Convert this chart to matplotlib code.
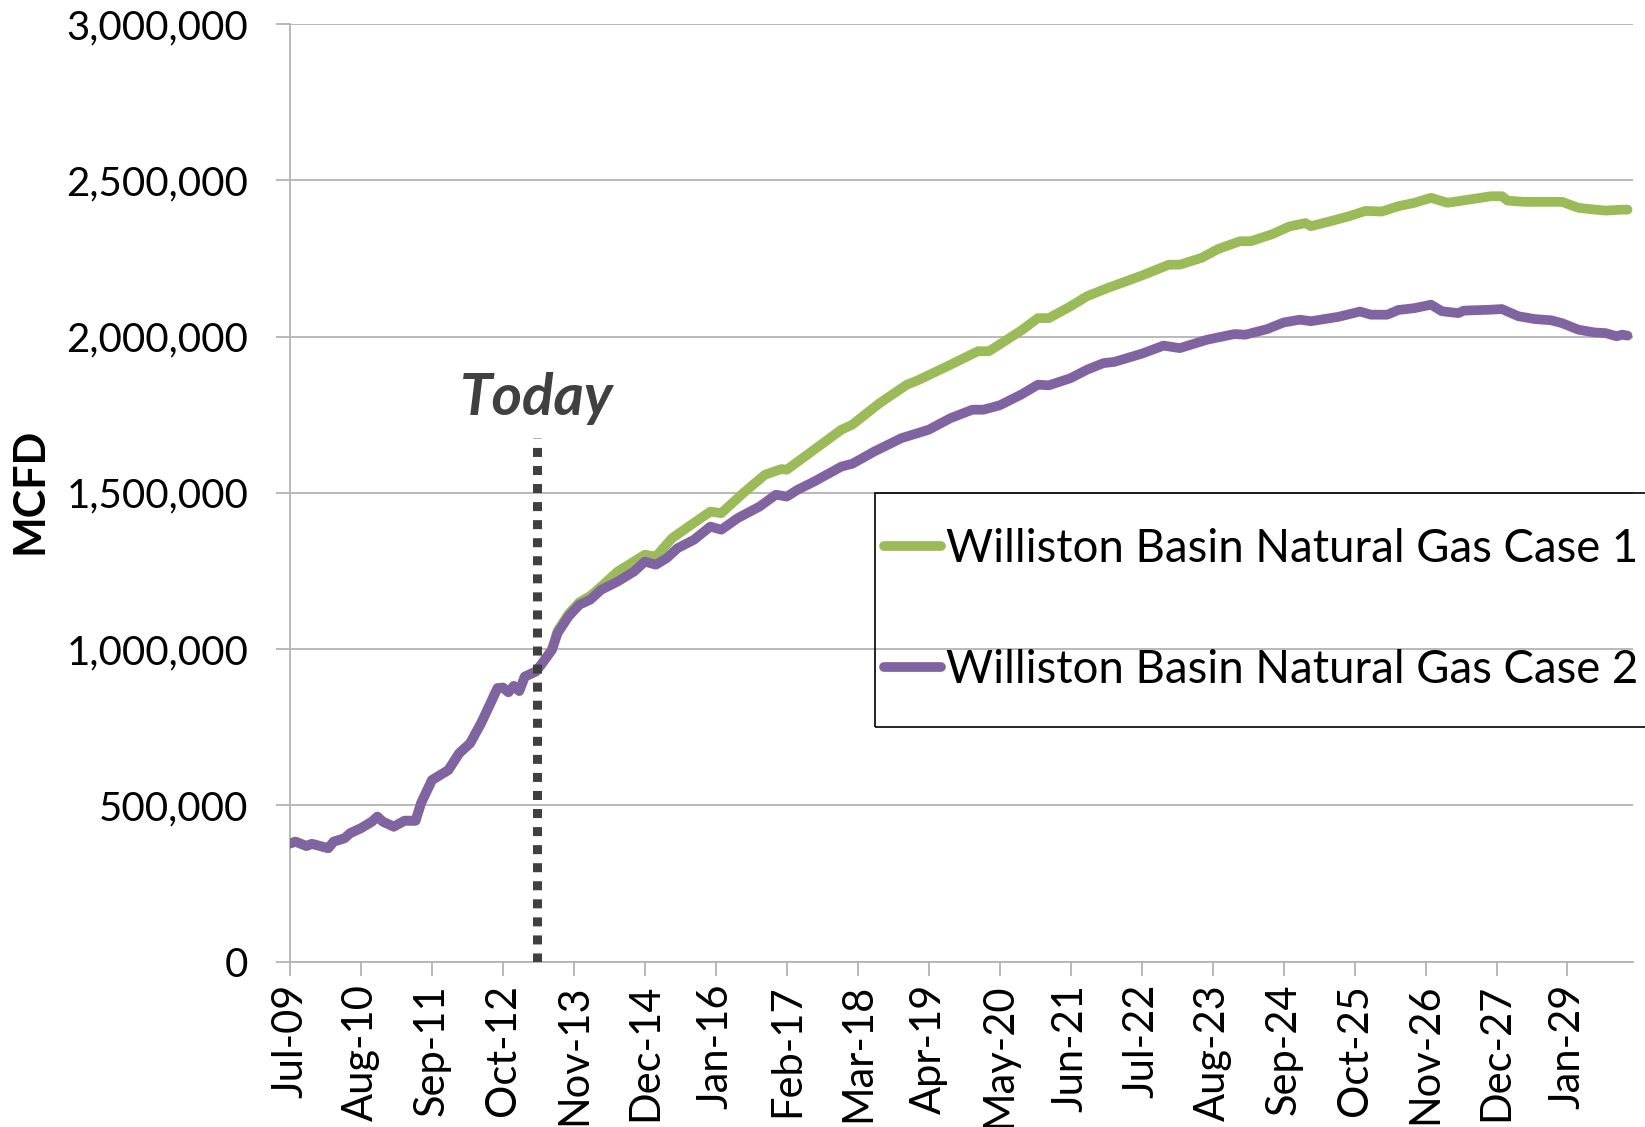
import numpy as np
import matplotlib
matplotlib.use('Agg')
import matplotlib.pyplot as plt
from matplotlib.patches import Rectangle

plt.rcParams['font.family'] = ['Lato', 'DejaVu Sans']

# months counted from Jul-09 (0) ; values in MCFD
hist_months = [0, 1, 3, 4, 7, 8, 10, 11, 13, 15, 16, 17, 19, 21, 23, 24, 26, 29, 31, 33,
               35, 36, 38, 39, 40, 41, 42, 43, 45]
hist_values = [378000, 384000, 370000, 377000, 363000, 384000, 395000, 411000, 427000, 448000,
               464000, 448000, 432000, 451000, 451000, 507000, 581000, 613000, 667000, 699000,
               763000, 800000, 875000, 877000, 862000, 882000, 866000, 912000, 928000]

case1_months = [46, 48, 49, 51, 53, 55, 57, 60, 65, 67, 70, 73, 77, 79, 83, 87, 90, 91, 96,
                101, 103, 108, 113, 115, 121, 126, 128, 130, 134, 137, 139, 143, 146, 150,
                151, 156, 161, 163, 167, 170, 174, 176, 180, 183, 186, 187, 191, 194, 197,
                200, 203, 206, 209, 212, 214, 217, 220, 222, 223, 226, 233, 236, 238, 241,
                244, 245]
case1_values = [950000, 1000000, 1058000, 1112000, 1150000, 1170000, 1200000, 1248000, 1302000,
                1296000, 1355000, 1392000, 1440000, 1435000, 1499000, 1558000, 1576000, 1574000,
                1638000, 1702000, 1718000, 1787000, 1846000, 1860000, 1910000, 1953000, 1953000,
                1975000, 2020000, 2059000, 2059000, 2097000, 2129000, 2157000, 2163000, 2195000,
                2230000, 2230000, 2252000, 2280000, 2305000, 2305000, 2328000, 2352000, 2363000,
                2353000, 2371000, 2385000, 2402000, 2400000, 2417000, 2428000, 2444000, 2428000,
                2433000, 2441000, 2449000, 2449000, 2435000, 2431000, 2431000, 2412000, 2408000,
                2403000, 2406000, 2406000]

case2_months = [46, 48, 49, 51, 53, 55, 57, 60, 63, 65, 67, 69, 71, 74, 77, 79, 82, 86, 89,
                91, 93, 96, 101, 103, 107, 112, 117, 121, 125, 127, 130, 134, 137, 139, 143,
                146, 149, 151, 156, 160, 163, 168, 173, 175, 179, 182, 185, 187, 192, 196,
                198, 201, 203, 206, 209, 211, 214, 215, 220, 222, 225, 228, 231, 233, 236,
                239, 241, 243, 244, 245]
case2_values = [950000, 998000, 1051000, 1104000, 1142000, 1158000, 1190000, 1216000, 1248000,
                1280000, 1270000, 1291000, 1323000, 1350000, 1392000, 1382000, 1419000, 1456000,
                1494000, 1488000, 1510000, 1536000, 1584000, 1593000, 1632000, 1675000, 1702000,
                1739000, 1766000, 1766000, 1780000, 1815000, 1846000, 1844000, 1867000, 1894000,
                1915000, 1919000, 1945000, 1971000, 1963000, 1990000, 2008000, 2006000, 2024000,
                2045000, 2054000, 2049000, 2063000, 2080000, 2070000, 2070000, 2085000, 2091000,
                2102000, 2081000, 2075000, 2083000, 2086000, 2088000, 2065000, 2056000, 2052000,
                2043000, 2022000, 2013000, 2011000, 2001000, 2006000, 2003000]

tick_months = [0, 13, 26, 39, 52, 65, 78, 91, 104, 117, 130, 143, 156, 169, 182, 195, 208, 221, 234]
tick_labels = ['Jul-09', 'Aug-10', 'Sep-11', 'Oct-12', 'Nov-13', 'Dec-14', 'Jan-16', 'Feb-17',
               'Mar-18', 'Apr-19', 'May-20', 'Jun-21', 'Jul-22', 'Aug-23', 'Sep-24', 'Oct-25',
               'Nov-26', 'Dec-27', 'Jan-29']
y_ticks = [0, 500000, 1000000, 1500000, 2000000, 2500000, 3000000]

today_month = 45.2
today_top = 1675000

green = '#9BBB59'
purple = '#8064A2'
grid_grey = '#B3B3B3'

fig = plt.figure(figsize=(16.45, 11.27), dpi=100)
ax = fig.add_axes([0.1763, 0.1467, 0.8164, 0.832])

x1 = hist_months + case1_months
y1 = hist_values + case1_values
x2 = hist_months + case2_months
y2 = hist_values + case2_values

l1, = ax.plot(x1, y1, color=green, lw=7, solid_joinstyle='round', solid_capstyle='round',
              label='Williston Basin Natural Gas Case 1', zorder=3)
l2, = ax.plot(x2, y2, color=purple, lw=7, solid_joinstyle='round', solid_capstyle='round',
              label='Williston Basin Natural Gas Case 2', zorder=4)

# linea de hoy
ax.plot([today_month, today_month], [0, today_top], color='#404040', lw=6.5,
        linestyle=(0, (1, 1)), dash_capstyle='butt', zorder=5)
ax.text(today_month, 1801000, 'Today', ha='center', va='center', fontsize=42,
        fontweight='bold', fontstyle='italic', color='#404040')

ax.set_xlim(0, 246)
ax.set_ylim(0, 3000000)
ax.set_yticks(y_ticks)
ax.set_yticklabels([f'{v:,}' for v in y_ticks])
ax.set_xticks(tick_months)
ax.set_xticklabels(tick_labels, rotation=90)
ax.grid(axis='y', color=grid_grey, lw=1.3)
ax.set_axisbelow(True)
for s in ['top', 'right']:
    ax.spines[s].set_visible(False)
for s in ['left', 'bottom']:
    ax.spines[s].set_color(grid_grey)
    ax.spines[s].set_linewidth(1.3)
ax.tick_params(axis='y', length=10, width=1.3, color=grid_grey, pad=20, labelsize=29)
ax.tick_params(axis='x', length=10, width=1.3, color=grid_grey, pad=6, labelsize=30)

fig.text(29 / 1645, 1 - 491 / 1127, 'MCFD', rotation=90, ha='center', va='center',
         fontsize=31, fontweight='bold')

# leyenda
fig.patches.append(Rectangle((875 / 1645, 1 - 727 / 1127), 0.6, 234 / 1127,
                             transform=fig.transFigure, fill=False, edgecolor='black', lw=1.2))
leg = fig.legend(handles=[l1, l2], loc='center left', bbox_to_anchor=(884 / 1645, 1 - 609.5 / 1127),
                 frameon=False, fontsize=32.8, borderpad=0, borderaxespad=0,
                 handlelength=1.25, handletextpad=0.1, labelspacing=1.75)

fig.savefig('out.png', dpi=100)
